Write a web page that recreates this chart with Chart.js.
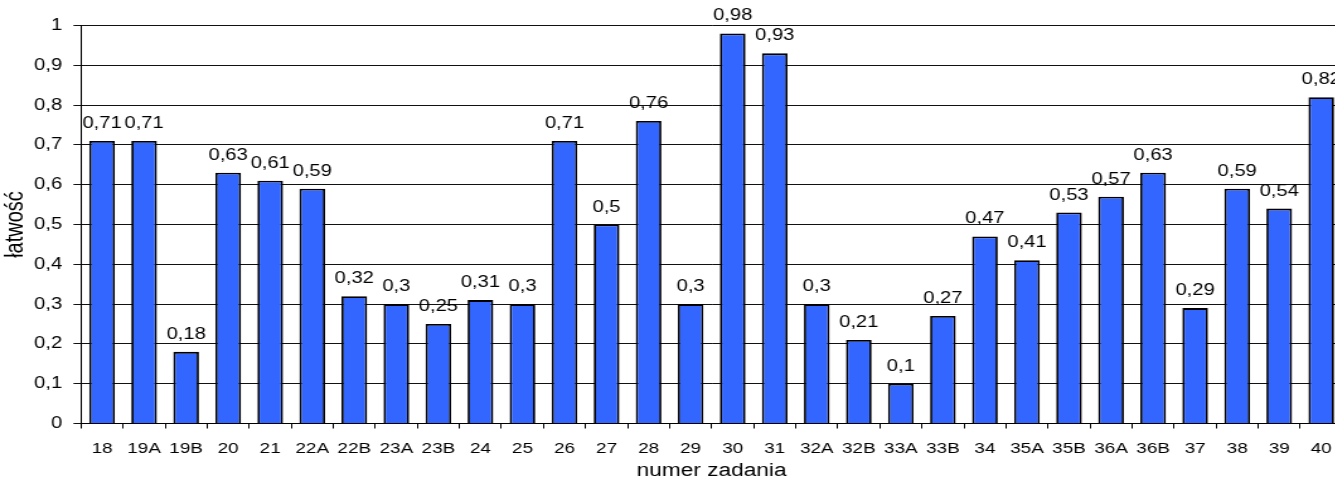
<!DOCTYPE html>
<html>
<head>
<meta charset="utf-8">
<script src="https://cdn.jsdelivr.net/npm/chart.js@4/dist/chart.umd.min.js"></script>
<style>
  html, body { margin: 0; padding: 0; background: #fff; overflow: hidden; width: 1335px; height: 482px; }
  #wrap { width: 1068px; height: 482px; transform: scaleX(1.26); transform-origin: 0 0; }
  #c { display: block; }
</style>
</head>
<body>
<div id="wrap"><canvas id="c" width="1068" height="482"></canvas></div>
<script>
const categories = ['18','19A','19B','20','21','22A','22B','23A','23B','24','25','26','27','28','29','30','31','32A','32B','33A','33B','34','35A','35B','36A','36B','37','38','39','40'];
const values = [0.71,0.71,0.18,0.63,0.61,0.59,0.32,0.3,0.25,0.31,0.3,0.71,0.5,0.76,0.3,0.98,0.93,0.3,0.21,0.1,0.27,0.47,0.41,0.53,0.57,0.63,0.29,0.59,0.54,0.82];
const yTickLabels = ['0','0,1','0,2','0,3','0,4','0,5','0,6','0,7','0,8','0,9','1'];
const xTitle = 'numer zadania';
const yTitle = 'łatwość';

const FONT = "'Liberation Sans', Arial, sans-serif";

const valueLabels = {
  id: 'valueLabels',
  afterDatasetsDraw(chart) {
    const ctx = chart.ctx;
    const meta = chart.getDatasetMeta(0);
    ctx.save();
    ctx.font = '16px ' + FONT;
    ctx.fillStyle = '#000';
    ctx.textAlign = 'center';
    ctx.textBaseline = 'alphabetic';
    meta.data.forEach((bar, i) => {
      const txt = String(values[i]).replace('.', ',');
      ctx.fillText(txt, bar.x, bar.y - 13);
    });
    ctx.restore();
  }
};

new Chart(document.getElementById('c'), {
  type: 'bar',
  data: {
    labels: categories,
    datasets: [{
      data: values,
      backgroundColor: '#3366FF',
      borderColor: '#000',
      borderWidth: 1.8,
      barPercentage: 0.61,
      categoryPercentage: 1
    }]
  },
  options: {
    responsive: false,
    devicePixelRatio: 1,
    animation: false,
    layout: { padding: { top: 25.5, right: 2, left: 0, bottom: 0 } },
    plugins: { legend: { display: false }, tooltip: { enabled: false } },
    scales: {
      x: {
        grid: { display: true, drawOnChartArea: false, tickLength: 5, color: '#000', offset: true },
        border: { display: true, color: '#000', width: 1 },
        ticks: { color: '#000', font: { family: FONT, size: 15 }, padding: 11, maxRotation: 0, autoSkip: false },
        title: { display: true, text: xTitle, color: '#000', font: { family: FONT, size: 18, lineHeight: 1.2 }, padding: { top: 0, bottom: 0 } },
        afterFit(scale) { scale.height = 58.5; }
      },
      y: {
        min: 0, max: 1,
        grid: { color: '#111', lineWidth: 1, tickLength: 6 },
        border: { display: true, color: '#000', width: 1 },
        ticks: {
          stepSize: 0.1, color: '#000', font: { family: FONT, size: 16 }, padding: 9,
          callback: (v, i) => yTickLabels[i]
        },
        title: { display: true, text: yTitle, color: '#000', font: { family: FONT, size: 20, lineHeight: 1.1 }, padding: { top: 1, bottom: 1 } },
        afterFit(scale) { scale.width = 64.3; }
      }
    }
  },
  plugins: [valueLabels]
});
</script>
</body>
</html>
